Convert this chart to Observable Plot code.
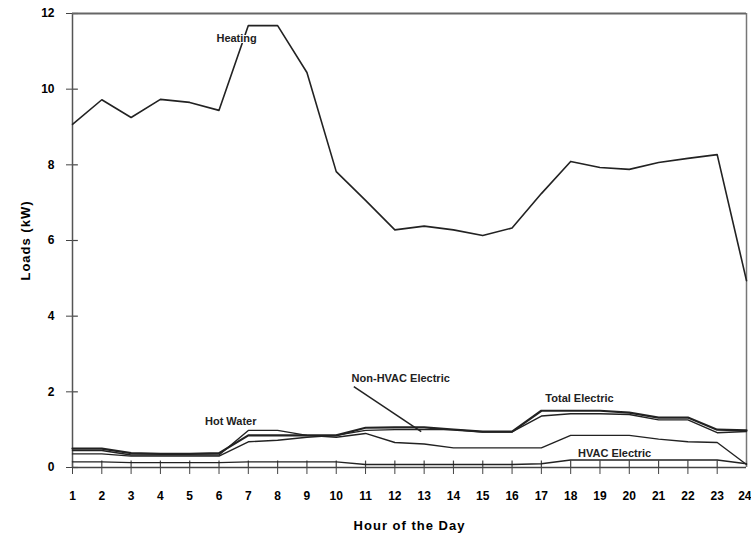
<!DOCTYPE html>
<html>
<head>
<meta charset="utf-8">
<script src="https://cdn.jsdelivr.net/npm/d3@7"></script>
<script src="https://cdn.jsdelivr.net/npm/@observablehq/plot@0.6"></script>
<style>
  html, body { margin: 0; padding: 0; background: #fff; }
  #chart svg { display: block; font-family: "Liberation Sans", Arial, sans-serif; }
</style>
</head>
<body>
<div id="chart"></div>
<script>
const hours = d3.range(1, 25);
const yTicks = [0, 2, 4, 6, 8, 10, 12];

const heating = [9.07, 9.72, 9.25, 9.73, 9.65, 9.44, 11.68, 11.68, 10.44, 7.82, 7.06, 6.28, 6.38, 6.28, 6.13, 6.33, 7.24, 8.09, 7.93, 7.88, 8.06, 8.17, 8.27, 4.94];
const totalElectric = [0.5, 0.5, 0.38, 0.36, 0.36, 0.38, 0.85, 0.85, 0.85, 0.85, 1.05, 1.06, 1.06, 1.0, 0.95, 0.95, 1.5, 1.5, 1.5, 1.45, 1.32, 1.32, 1.0, 0.98];
const nonHvacElectric = [0.36, 0.36, 0.3, 0.3, 0.3, 0.3, 0.68, 0.72, 0.8, 0.85, 0.98, 1.0, 1.0, 1.0, 0.94, 0.94, 1.36, 1.42, 1.42, 1.4, 1.26, 1.26, 0.92, 0.95];
const hotWater = [0.45, 0.45, 0.33, 0.33, 0.33, 0.33, 0.98, 0.98, 0.85, 0.8, 0.9, 0.66, 0.62, 0.52, 0.52, 0.52, 0.52, 0.85, 0.85, 0.85, 0.75, 0.68, 0.66, 0.08];
const hvacElectric = [0.15, 0.15, 0.13, 0.13, 0.13, 0.13, 0.15, 0.15, 0.15, 0.15, 0.08, 0.08, 0.08, 0.08, 0.08, 0.08, 0.1, 0.2, 0.2, 0.2, 0.2, 0.2, 0.2, 0.1];

const seriesNames = ["Heating", "Total Electric", "Non-HVAC Electric", "Hot Water", "HVAC Electric"];
const seriesValues = [heating, totalElectric, nonHvacElectric, hotWater, hvacElectric];
const seriesWidth = [1.6, 2.2, 1.4, 1.4, 1.4];

const rows = [];
seriesNames.forEach((name, i) => {
  seriesValues[i].forEach((v, j) => rows.push({series: name, hour: hours[j], value: v}));
});

const labels = [
  {text: "Heating", x: 6.6, y: 11.35, anchor: "end"},
  {text: "Hot Water", x: 6.4, y: 1.22, anchor: "middle"},
  {text: "Non-HVAC Electric", x: 12.2, y: 2.35, anchor: "middle"},
  {text: "Total Electric", x: 18.3, y: 1.82, anchor: "middle"},
  {text: "HVAC Electric", x: 19.5, y: 0.37, anchor: "middle"}
];
const leader = [{x1: 10.6, y1: 2.14, x2: 12.9, y2: 0.95}];

const chart = Plot.plot({
  width: 751,
  height: 542,
  marginTop: 13,
  marginBottom: 75,
  marginLeft: 72,
  marginRight: 5,
  x: {domain: [1, 24]},
  y: {domain: [0, 12]},
  marks: [
    Plot.axisX({ticks: hours.slice(0, 23), tickFormat: d => String(d), tickSize: 7, tickPadding: 17, fontSize: 12, fontWeight: "bold", label: "Hour of the Day", labelAnchor: "center", labelArrow: "none", labelOffset: 62, stroke: "#444"}),
    Plot.axisX({ticks: hours.slice(23), tickFormat: d => String(d), tickSize: 7, tickPadding: 17, fontSize: 12, fontWeight: "bold", textAnchor: "end", dx: 5, label: null, stroke: "#444"}),
    Plot.axisY({ticks: yTicks, tickSize: 6, tickPadding: 12, fontSize: 12, fontWeight: "bold", label: "Loads (kW)", labelAnchor: "center", labelArrow: "none", labelOffset: 52, stroke: "#444"}),
    Plot.ruleX(hours, {x: d => d, y1: 0, y2: 0.17, stroke: "#444", strokeWidth: 1.2}),
    Plot.ruleY(yTicks, {y: d => d, x1: 1, x2: 1.2, stroke: "#444", strokeWidth: 1.2}),
    Plot.ruleX([1], {stroke: "#555", strokeWidth: 1.5}),
    Plot.ruleX([24], {stroke: "#777", strokeWidth: 1.5}),
    Plot.ruleY([0], {stroke: "#444", strokeWidth: 1.5}),
    Plot.ruleY([12], {stroke: "#666", strokeWidth: 2}),
    Plot.lineY(rows, {x: "hour", y: "value", z: "series", stroke: "#222", strokeWidth: d => seriesWidth[seriesNames.indexOf(d.series)]}),
    Plot.link(leader, {x1: "x1", y1: "y1", x2: "x2", y2: "y2", stroke: "#222", strokeWidth: 1.5}),
    Plot.text(labels, {x: "x", y: "y", text: "text", textAnchor: "anchor", fontSize: 11, fontWeight: "bold", fill: "#222", stroke: "white", strokeWidth: 2, paintOrder: "stroke"})
  ]
});
chart.querySelectorAll("[aria-label='x-axis label'] text, [aria-label='y-axis label'] text").forEach(t => {
  t.setAttribute("font-size", "13");
  t.setAttribute("font-weight", "bold");
  t.setAttribute("letter-spacing", "1");
});
document.getElementById("chart").appendChild(chart);
</script>
</body>
</html>
